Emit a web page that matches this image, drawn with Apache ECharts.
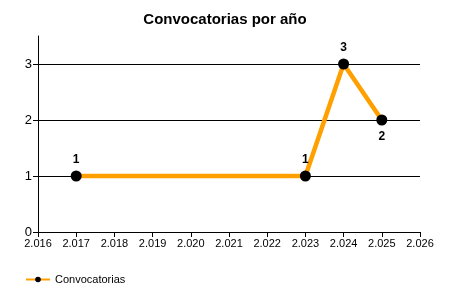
<!DOCTYPE html>
<html><head><meta charset="utf-8">
<script src="https://cdn.jsdelivr.net/npm/echarts@6/dist/echarts.min.js"></script>
<style>html,body{margin:0;padding:0;background:#fff}#c{width:450px;height:300px}</style>
</head><body><div id="c"></div>
<script>
var years = [2017, 2023, 2024, 2025];
var values = [1, 1, 3, 2];
var labelPos = ['top', 'top', 'top', 'bottom'];
var yTicks = [0, 1, 2, 3];
var gridValues = [1, 2, 3];
var seriesName = 'Convocatorias';
var titleText = 'Convocatorias por año';

var data = years.map(function (y, i) {
  return { value: [y, values[i]], label: { position: labelPos[i] } };
});

var chart = echarts.init(document.getElementById('c'), null, { renderer: 'canvas' });
chart.setOption({
  animation: false,
  backgroundColor: '#fff',
  title: {
    text: titleText, left: 'center', top: 7,
    textStyle: { fontFamily: 'Liberation Sans, Arial', fontWeight: 'bold', fontSize: 15, color: '#000' }
  },
  legend: {
    left: 20, top: 269, itemWidth: 24, itemHeight: 7, itemGap: 4,
    textStyle: { fontFamily: 'Liberation Sans, Arial', fontSize: 11, color: '#000' },
    data: [seriesName]
  },
  grid: { left: 38, right: 30, top: 36, bottom: 68, containLabel: false },
  xAxis: {
    type: 'value', min: 2016, max: 2026, interval: 1,
    axisLine: { show: true, lineStyle: { color: '#000', width: 1 } },
    axisTick: { show: true, length: 5, lineStyle: { color: '#000' } },
    splitLine: { show: false },
    axisLabel: {
      color: '#000', fontFamily: 'Liberation Sans, Arial', fontSize: 11, margin: 6,
      formatter: function (v) { return String(v).replace(/^(\d)(\d{3})$/, '$1.$2'); }
    }
  },
  yAxis: {
    type: 'value', min: 0, max: 3.5, interval: 1,
    axisLine: { show: true, lineStyle: { color: '#000', width: 1 } },
    axisTick: { show: true, length: 5, lineStyle: { color: '#000' }, customValues: yTicks },
    splitLine: { show: false },
    axisLabel: { color: '#000', fontFamily: 'Liberation Sans, Arial', fontSize: 13, margin: 6, customValues: yTicks }
  },
  series: [{
    name: seriesName, type: 'line', data: data,
    symbol: 'circle', symbolSize: 11,
    itemStyle: { color: '#000' },
    lineStyle: { color: '#FFA000', width: 4.5 },
    label: { show: true, fontFamily: 'Liberation Sans, Arial', fontWeight: 'bold', fontSize: 12, color: '#000', distance: 5 },
    markLine: {
      silent: true, symbol: 'none', label: { show: false },
      lineStyle: { color: '#000', width: 1, type: 'solid' },
      z: 1,
      data: gridValues.map(function (v) { return { yAxis: v }; })
    }
  }]
});
</script></body></html>
